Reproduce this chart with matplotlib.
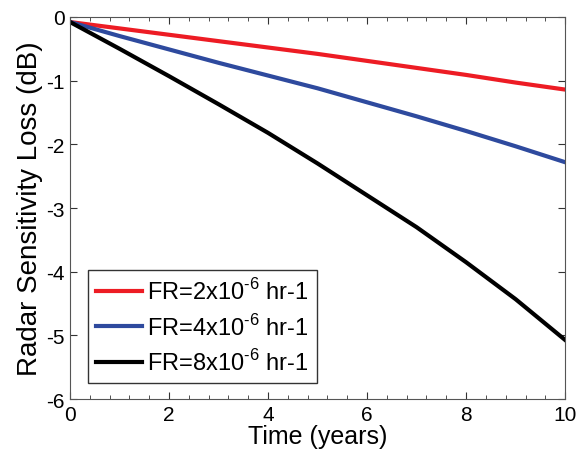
import matplotlib
matplotlib.use("Agg")
import matplotlib.pyplot as plt
from matplotlib.ticker import MultipleLocator

plt.rcParams['font.family'] = ['Liberation Sans', 'DejaVu Sans']
plt.rcParams['axes.unicode_minus'] = False
plt.rcParams['mathtext.fontset'] = 'custom'
plt.rcParams['mathtext.rm'] = 'Liberation Sans'

years = [0, 1, 2, 3, 4, 5, 6, 7, 8, 9, 10]
loss_fr2 = [-0.08, -0.18, -0.28, -0.38, -0.48, -0.58, -0.69, -0.80, -0.91, -1.03, -1.14]
loss_fr4 = [-0.08, -0.30, -0.51, -0.72, -0.92, -1.12, -1.34, -1.56, -1.79, -2.03, -2.28]
loss_fr8 = [-0.08, -0.50, -0.93, -1.37, -1.82, -2.30, -2.80, -3.30, -3.85, -4.43, -5.07]
labels = [r'FR=2x10$^{\text{-6}}$ hr-1', r'FR=4x10$^{\text{-6}}$ hr-1', r'FR=8x10$^{\text{-6}}$ hr-1']

fig = plt.figure(figsize=(5.79, 4.6), dpi=100)
ax = fig.add_axes([0.121, 0.130, 0.855, 0.831])

ax.plot(years, loss_fr2, color='#ED1C24', lw=3, label=labels[0])
ax.plot(years, loss_fr4, color='#2E4A9E', lw=3, label=labels[1])
ax.plot(years, loss_fr8, color='black', lw=3, label=labels[2])

ax.set_xlim(0, 10)
ax.set_ylim(-6, 0)
ax.xaxis.set_major_locator(MultipleLocator(2))
ax.xaxis.set_minor_locator(MultipleLocator(0.4))
ax.yaxis.set_major_locator(MultipleLocator(1))
ax.tick_params(which='both', direction='in', top=True, right=True, labelsize=15, colors='#333333')
ax.tick_params(labelcolor='black', pad=4)
ax.tick_params(which='major', length=5)
ax.tick_params(which='minor', length=3)
for s in ax.spines.values():
    s.set_color('#555555')

ax.set_xlabel('Time (years)', fontsize=18, labelpad=0)
ax.set_ylabel('Radar Sensitivity Loss (dB)', fontsize=20, labelpad=2)

leg = ax.legend(loc='lower left', bbox_to_anchor=(0.036, 0.042), borderaxespad=0,
                fontsize=17, fancybox=False, edgecolor='#333333', framealpha=1,
                handlelength=1.95, handletextpad=0.22, labelspacing=0.4,
                borderpad=0.35)
leg.get_frame().set_linewidth(1.0)

fig.savefig('out.png', dpi=100)
